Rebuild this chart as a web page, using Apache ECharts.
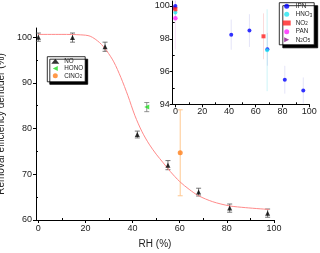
<!DOCTYPE html>
<html><head><meta charset="utf-8">
<script src="https://cdn.jsdelivr.net/npm/echarts@6/dist/echarts.min.js"></script>
<style>html,body{margin:0;padding:0;background:#fff}#c{width:320px;height:253px}</style>
</head><body><div id="c"></div>
<script>
// ---- main panel ----
const noX = [0, 14.5, 28.3, 42, 55, 68, 81.2, 97.3];
const noY = [100, 99.9, 97.9, 78.7, 72.0, 66.1, 62.6, 61.5];
const noErr = [0.9, 1.0, 1.0, 0.75, 1.0, 0.85, 0.9, 0.9];
const honoX = [46];
const honoY = [84.7];
const honoErr = [1.0];
const clno2X = [60.2];
const clno2Y = [74.7];
const clno2Err = [9.4];
const fitX = [0, 10, 18, 22, 26, 29, 32, 35, 38, 41, 44, 47, 50, 53, 56, 60, 64, 68, 74, 81, 88, 98];
const fitY = [100.6, 100.6, 100.5, 100.2, 98.8, 97.0, 94.6, 91.2, 87.2, 82.8, 79.3, 76.6, 74.4, 72.5, 70.6, 68.4, 66.7, 65.3, 64.0, 63.1, 62.7, 62.3];
const mainXTicks = [0, 20, 40, 60, 80, 100];
const mainXMinor = [10, 30, 50, 70, 90];
const mainYTicks = [60, 70, 80, 90, 100];
const mainYMinor = [65, 75, 85, 95];
// ---- inset ----
const ipnX = [0, 41.7, 55.3, 68.7, 81.7, 95.5];
const ipnY = [100, 98.25, 98.5, 97.36, 95.5, 94.84];
const ipnErr = [0.3, 0.92, 1.0, 1.0, 0.85, 0.8];
const hno3X = [0, 68.5];
const hno3Y = [99.6, 97.3];
const hno3Err = [0.4, 2.5];
const no2X = [0, 65.8];
const no2Y = [99.8, 98.15];
const no2Err = [0.3, 1.4];
const panX = [0];
const panY = [99.25];
const panErr = [1.9];
const n2o5X = [0];
const n2o5Y = [99.9];
const n2o5Err = [0.2];
const insetXTicks = [0, 20, 40, 60, 80, 100];
const insetXMinor = [10, 30, 50, 70, 90];
const insetYTicks = [94, 96, 98, 100];
const insetYMinor = [95, 97, 99];

const pts = (xs, ys) => xs.map((x, i) => [x, ys[i]]);
function errBars(xs, ys, es, color, cap, ai, lw) {
  return {
    type: 'custom', xAxisIndex: ai, yAxisIndex: ai, silent: true, z: 1,
    data: xs.map((x, i) => [x, ys[i], es[i]]),
    encode: { x: 0, y: 1 },
    renderItem: (params, api) => {
      const x = api.value(0), y = api.value(1), e = api.value(2);
      const t = api.coord([x, y + e]), b = api.coord([x, y - e]);
      const st = { stroke: color, lineWidth: lw };
      const ch = [{ type: 'line', shape: { x1: t[0], y1: t[1], x2: b[0], y2: b[1] }, style: st }];
      if (cap > 0) {
        ch.push({ type: 'line', shape: { x1: t[0] - cap, y1: t[1], x2: t[0] + cap, y2: t[1] }, style: st });
        ch.push({ type: 'line', shape: { x1: b[0] - cap, y1: b[1], x2: b[0] + cap, y2: b[1] }, style: st });
      }
      return { type: 'group', children: ch };
    }
  };
}
const FONT = 'Liberation Sans, Arial, sans-serif';
const txt = '#222';
const subFmt = {
  'ClNO2': '{t|ClNO}{s|2}', 'HNO3': '{t|HNO}{s|3}', 'NO2': '{t|NO}{s|2}', 'N2O5': '{t|N}{s|2}{t|O}{s|5}'
};
const legendRich = {
  t: { fontSize: 6.3, fontFamily: FONT, color: txt, lineHeight: 7 },
  s: { fontSize: 4.5, fontFamily: FONT, color: txt, verticalAlign: 'bottom', lineHeight: 6 }
};
const LEFT_TRI = 'path://M0,5L10,0L10,10Z';
const RIGHT_TRI = 'path://M10,5L0,0L0,10Z';
function valAxis(gi, pos, min, max, ticks, margin, extra) {
  return Object.assign({
    type: 'value', gridIndex: gi, position: pos, min: min, max: max,
    axisLine: { show: true, onZero: false, lineStyle: { color: '#000', width: 1 } },
    axisTick: { show: true, customValues: ticks, length: 3, lineStyle: { color: '#000' } },
    axisLabel: { show: true, customValues: ticks, fontSize: 9, fontFamily: FONT, color: txt, margin: margin },
    splitLine: { show: false }
  }, extra || {});
}
function minorAxis(gi, pos, min, max, ticks) {
  return {
    type: 'value', gridIndex: gi, position: pos, min: min, max: max,
    axisLine: { show: false, onZero: false },
    axisTick: { show: true, customValues: ticks, inside: true, length: 2, lineStyle: { color: '#000' } },
    axisLabel: { show: false }, splitLine: { show: false }
  };
}
const chart = echarts.init(document.getElementById('c'), null, { renderer: 'canvas' });
chart.setOption({
  animation: false,
  backgroundColor: '#fff',
  grid: [
    { left: 36, right: 46, top: 28, bottom: 33, containLabel: false, outerBoundsMode: 'none' },
    { left: 172.7, right: 10.7, top: 1.1, bottom: 148.7, containLabel: false, outerBoundsMode: 'none' }
  ],
  xAxis: [
    valAxis(0, 'bottom', -1, 100, mainXTicks, 4.5, { name: 'RH (%)', nameLocation: 'middle', nameGap: 19, nameTextStyle: { fontSize: 10, fontFamily: FONT, color: txt } }),
    minorAxis(0, 'bottom', -1, 100, mainXMinor),
    valAxis(1, 'bottom', -2, 100, insetXTicks, 2.5),
    minorAxis(1, 'bottom', -2, 100, insetXMinor)
  ],
  yAxis: [
    valAxis(0, 'left', 60, 102, mainYTicks, 4, { name: 'Removal efficiency denuder (%)', nameLocation: 'middle', nameGap: 19, nameTextStyle: { fontSize: 10, fontFamily: FONT, color: txt } }),
    minorAxis(0, 'left', 60, 102, mainYMinor),
    valAxis(1, 'left', 94, 100.3, insetYTicks, 3),
    minorAxis(1, 'left', 94, 100.3, insetYMinor)
  ],
  legend: [
    {
      data: [{ name: 'NO' }, { name: 'HONO', icon: LEFT_TRI }, { name: 'ClNO2' }],
      orient: 'vertical', left: 47.3, top: 56.7,
      itemWidth: 8, itemHeight: 5, itemGap: 1.3, padding: [1.5, 2, 2.5, 4],
      backgroundColor: '#fff', borderColor: '#000', borderWidth: 0.8,
      shadowColor: '#000', shadowBlur: 0, shadowOffsetX: 2.5, shadowOffsetY: 2.5,
      formatter: n => subFmt[n] || ('{t|' + n + '}'),
      textStyle: { fontSize: 6.3, fontFamily: FONT, color: txt, rich: legendRich }
    },
    {
      data: [{ name: 'IPN' }, { name: 'HNO3' }, { name: 'NO2' }, { name: 'PAN' }, { name: 'N2O5', icon: RIGHT_TRI }],
      orient: 'vertical', left: 279.3, top: 2.7,
      itemWidth: 8, itemHeight: 5, itemGap: 2.15, padding: [0.5, 2, 1.5, 3.4],
      backgroundColor: '#fff', borderColor: '#000', borderWidth: 0.8,
      shadowColor: '#000', shadowBlur: 0, shadowOffsetX: 3.5, shadowOffsetY: 3,
      formatter: n => subFmt[n] || ('{t|' + n + '}'),
      textStyle: { fontSize: 6.3, fontFamily: FONT, color: txt, rich: legendRich }
    }
  ],
  series: [
    { type: 'line', xAxisIndex: 0, yAxisIndex: 0, data: pts(fitX, fitY), showSymbol: false, symbol: 'none', smooth: 0.3,
      lineStyle: { color: '#ff8a8a', width: 1 }, silent: true, z: 1 },
    errBars(noX, noY, noErr, '#555', 2.5, 0, 0.8),
    errBars(honoX, honoY, honoErr, '#777', 2.5, 0, 0.8),
    errBars(clno2X, clno2Y, clno2Err, '#ffc890', 2.5, 0, 1),
    { name: 'NO', type: 'scatter', xAxisIndex: 0, yAxisIndex: 0, data: pts(noX, noY), symbol: 'triangle', symbolSize: 5, itemStyle: { color: '#000' }, z: 3 },
    { name: 'HONO', type: 'scatter', xAxisIndex: 0, yAxisIndex: 0, data: pts(honoX, honoY), symbol: LEFT_TRI, symbolSize: 5, itemStyle: { color: '#22dd22' }, z: 3 },
    { name: 'ClNO2', type: 'scatter', xAxisIndex: 0, yAxisIndex: 0, data: pts(clno2X, clno2Y), symbol: 'circle', symbolSize: 5, itemStyle: { color: '#ff7f1a' }, z: 3 },
    errBars(ipnX, ipnY, ipnErr, 'rgba(120,120,220,0.25)', 0, 2, 0.8),
    errBars(hno3X, hno3Y, hno3Err, 'rgba(0,200,220,0.25)', 0, 2, 0.8),
    errBars(no2X, no2Y, no2Err, 'rgba(230,80,80,0.25)', 0, 2, 0.8),
    errBars(panX, panY, panErr, 'rgba(230,80,230,0.2)', 0, 2, 0.8),
    { name: 'N2O5', type: 'scatter', xAxisIndex: 2, yAxisIndex: 2, data: pts(n2o5X, n2o5Y), symbol: RIGHT_TRI, symbolSize: 5, itemStyle: { color: '#8b1a8b' }, z: 3 },
    { name: 'IPN', type: 'scatter', xAxisIndex: 2, yAxisIndex: 2, data: pts(ipnX, ipnY), symbol: 'circle', symbolSize: 4, itemStyle: { color: '#0000ff' }, z: 3 },
    { name: 'HNO3', type: 'scatter', xAxisIndex: 2, yAxisIndex: 2, data: pts(hno3X, hno3Y), symbol: 'circle', symbolSize: 4, itemStyle: { color: '#22e5f0' }, z: 3 },
    { name: 'NO2', type: 'scatter', xAxisIndex: 2, yAxisIndex: 2, data: pts(no2X, no2Y), symbol: 'rect', symbolSize: 4, itemStyle: { color: '#ff2020' }, z: 3 },
    { name: 'PAN', type: 'scatter', xAxisIndex: 2, yAxisIndex: 2, data: pts(panX, panY), symbol: 'circle', symbolSize: 4.5, itemStyle: { color: '#ff22ff' }, z: 3 }
  ]
});
</script>
</body></html>
